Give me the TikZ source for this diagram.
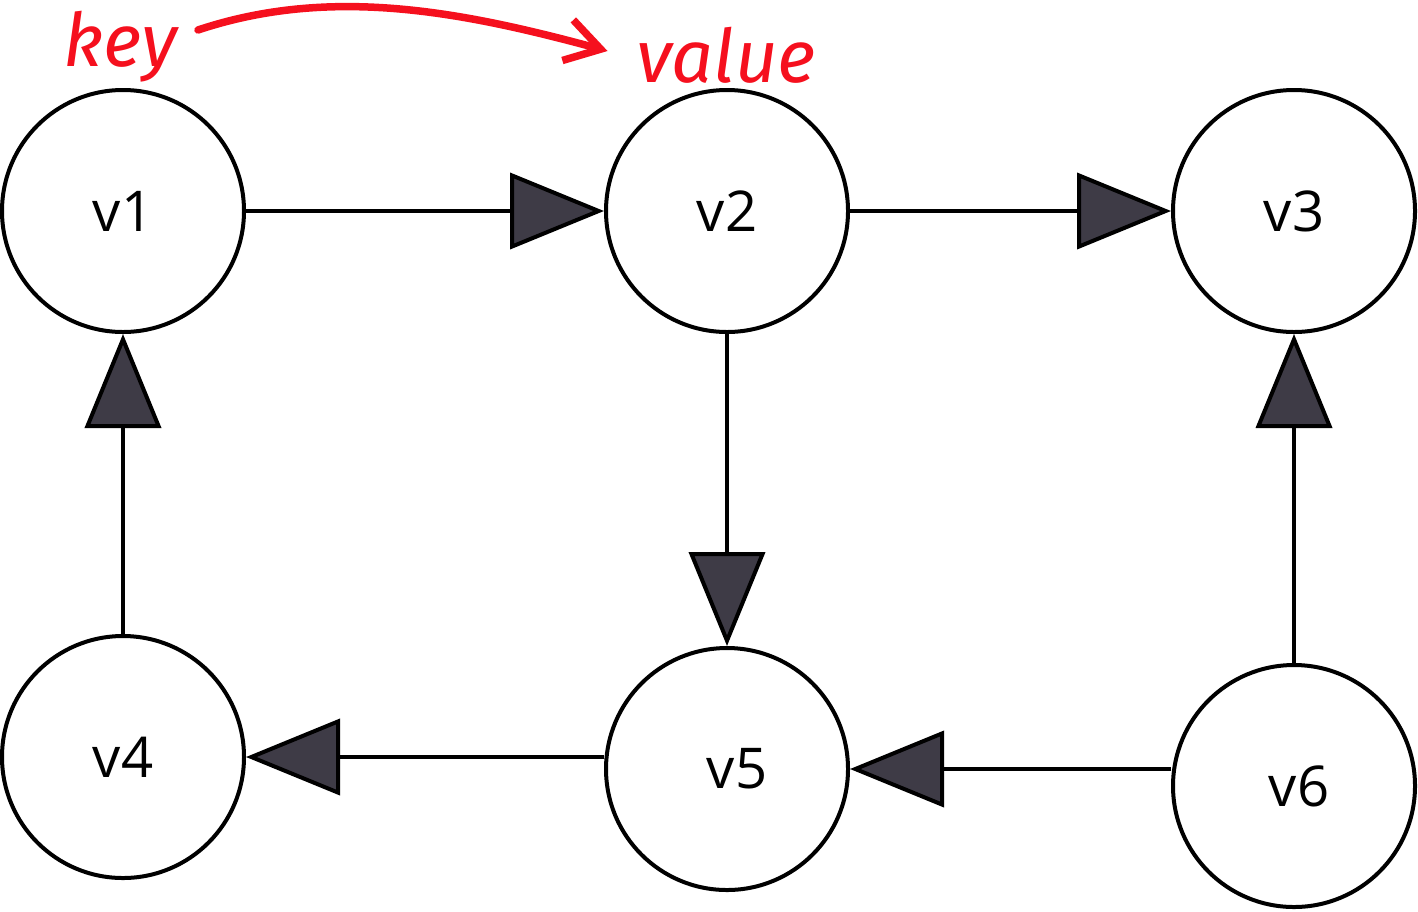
\documentclass[tikz,border=0pt]{standalone}
\usepackage{fontspec}
\usepackage{tikz}
\usetikzlibrary{arrows.meta,positioning,calc}
\newfontfamily\labelfont{Open Sans}
\newfontfamily\handfont{Fira Sans}
\definecolor{tipgray}{HTML}{3E3B46}
\definecolor{inkred}{HTML}{F5101E}

\begin{document}
\begin{tikzpicture}[
    vertex/.style={circle, draw, line width=0.04cm, minimum size=2.42cm, inner sep=0pt, font=\labelfont\fontsize{16}{16}\selectfont},
    edge/.style={draw, line width=0.04cm, -{Triangle[length=0.94cm, width=0.76cm, fill=tipgray]}},
    note/.style={text=inkred, font=\handfont\itshape\fontsize{21}{21}\selectfont, inner sep=0pt}
]
\useasboundingbox (0,0) rectangle (14.18,9.11);

% Vertices
\node[vertex] (v1) at (1.23,7.00) {v1};
\node[vertex] (v2) at (7.27,7.00) {v2};
\node[vertex] (v3) at (12.94,7.00) {v3};
\node[vertex] (v4) at (1.23,1.54) {v4};
\node[vertex] (v5) at (7.27,1.42) {\hspace{0.2cm}v5};
\node[vertex] (v6) at (12.94,1.25) {\hspace{0.1cm}v6};

% Edges
\path [edge] (v1) -- (v2);
\path [edge] (v2) -- (v3);
\path [edge] (v2) -- (v5);
\path [edge] (v4) -- (v1);
\path [edge] (v6) -- (v3);
\path [edge] (v5.west |- v4) -- (v4);
\path [edge] (v6.west |- v5) -- (v5);

% Key / value note
\node[note] (key) at (1.20,8.64) {key};
\node[note] (value) at (7.26,8.56) {value};
\coordinate (arcstart) at (1.98,8.81);
\draw[inkred, line width=0.075cm, line cap=round, -{Straight Barb[length=0.34cm, width=0.42cm, line width=0.075cm]}]
    (arcstart) .. controls (3.3,9.25) and (4.6,9.0) .. ([xshift=-0.28cm,yshift=0.04cm]value.west);

\end{tikzpicture}
\end{document}
